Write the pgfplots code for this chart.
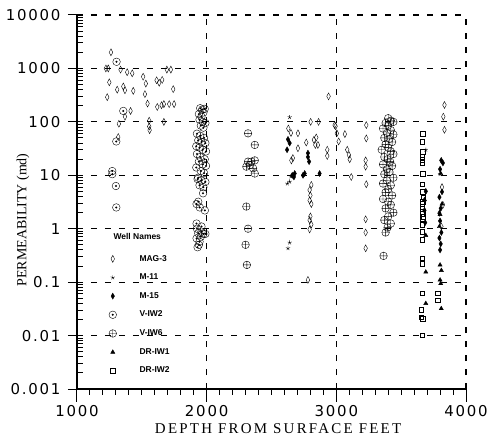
\documentclass[border=0pt]{standalone}
\usepackage{fontspec}
\setmainfont{Liberation Serif}
\newfontfamily\tickfont[LetterSpace=12]{DejaVu Sans}
\newfontfamily\labfont[LetterSpace=15]{Liberation Serif}
\newfontfamily\legfont{Liberation Sans}
\usepackage{pgfplots}
\pgfplotsset{compat=1.18}

\pgfdeclareplotmark{odot}{%
  \pgfpathcircle{\pgfpointorigin}{\pgfplotmarksize}\pgfusepathqstroke
  \pgfpathcircle{\pgfpointorigin}{0.3\pgfplotmarksize}\pgfusepathqfill}

\begin{document}
\begin{tikzpicture}
\useasboundingbox (-77bp,-54bp) rectangle (410bp,389bp);
\begin{axis}[
  scale only axis, width=389bp, height=374bp,
  ymode=log, xmin=1000, xmax=4000, ymin=0.001, ymax=10000,
  axis lines=left, axis line style={-, line width=1.3bp},
  xtick={1000,2000,3000,4000}, minor x tick num=9,
  ytick={0.001,0.01,0.1,1,10,100,1000,10000},
  yticklabels={0.001,0.01,0.1,1,10,100,1000,10000},
  xticklabels={1000,2000,3000,4000},
  minor ytick={0.002,0.003,0.004,0.005,0.006,0.007,0.008,0.009,
    0.02,0.03,0.04,0.05,0.06,0.07,0.08,0.09,
    0.2,0.3,0.4,0.5,0.6,0.7,0.8,0.9,
    2,3,4,5,6,7,8,9,20,30,40,50,60,70,80,90,
    200,300,400,500,600,700,800,900,2000,3000,4000,5000,6000,7000,8000,9000},
  tick align=outside, major tick length=13bp, minor tick length=6bp,
  tick style={black, line width=1bp},
  major y tick style={xshift=4bp},
  minor y tick style={xshift=6bp},
  ticklabel style={font=\tickfont\fontsize{15}{17}\selectfont},
  ymajorgrids, xmajorgrids,
  major grid style={black, line width=1.1bp, dash pattern=on 6bp off 8bp},
  xlabel={DEPTH\hspace{6bp}FROM\hspace{6bp}SURFACE\hspace{6bp}FEET},
  ylabel={PERMEABILITY (md)},
  xlabel style={font=\labfont\fontsize{15}{17}\selectfont, at={(axis description cs:0.517,-0.107)}, anchor=center},
  ylabel style={font=\fontsize{14}{16}\selectfont, at={(axis description cs:-0.139,0.452)}, anchor=center, rotate=0},
  every mark/.append style={line width=1bp, solid},
  legend style={draw=none, fill=none, at={(axis description cs:0.074,0.369)}, anchor=north west,
    font=\legfont\bfseries\fontsize{8.5}{10}\selectfont, row sep=7.3bp,
    /tikz/every odd column/.append style={column sep=21bp}},
  legend cell align=left,
  legend image code/.code={\draw[mark repeat=2,mark phase=2] plot coordinates {(0bp,0bp)(8bp,0bp)(16bp,0bp)};},
  clip=false,
]
% MAG-3
\addplot[only marks, mark=diamond, mark size=2.4bp, mark options={yscale=1.45}] coordinates {
(1262,2000)(1223,1000)(1241,1000)(1336,950)(1387,850)(1426,810)(1510,700)
(1693,950)(1724,950)(1249,550)(1357,460)(1531,520)(1614,600)(1634,540)(1657,610)
(1310,400)(1370,390)(1434,380)(1233,290)(1524,330)(1742,410)(1544,220)
(1619,190)(1652,205)(1670,215)(1711,215)(1749,215)(1413,160)(1370,125)(1323,92)
(1557,105)(1557,82)(1560,70)(1670,100)(1318,52)
(2940,300)(2802,100)(2863,100)(2630,75)(2650,62)(2704,61)(2704,32)(2768,41)
(2827,46)(2845,51)(2858,37)(2838,37)(2930,30)(2930,23)(2987,87)(2665,21)(2653,19)
(2807,6.6)(2794,5.3)(2800,4.2)(2794,3.4)(2807,2.9)(2800,1.7)(2794,1.45)(2807,1.2)(2794,0.97)
(2781,0.11)
(2994,83)(3004,61)(3018,43)(3066,59)(3084,30)(3097,24)(3103,20)(3115,9.3)
(3231,87)(3231,49)(3226,19)(3226,14.5)(3231,6.8)(3226,1.5)(3226,0.85)(3226,0.43)
(3834,207)(3825,125)(3834,71)(3815,6)(3822,2.8)(3810,1.1)
};
\addlegendentry{MAG-3}
% M-11
\addplot[only marks, mark=star, mark size=2.2bp] coordinates {
(2640,122)(2622,7)(2640,7.6)(2640,0.55)(2627,0.43)(2650,9.5)(3690,30)(3800,10.5)
};
\addlegendentry{M-11}
% M-15
\addplot[only marks, mark=diamond*, mark size=2.3bp, mark options={yscale=1.3}] coordinates {
(2627,47)(2640,40)(2620,30)(2781,26)(2781,22)(2790,18)(2679,10.8)(2673,9.3)
(2756,10.8)(2743,10)(2871,10.8)(2660,10)
(3809,19)(3822,17)(3800,13)(3815,4.9)(3795,3.9)(3805,2.4)(3795,1.95)(3800,1.4)
(3810,0.85)(3795,0.67)(3805,0.52)(3800,0.40)(3690,5)(3680,2.2)(3685,1.3)
};
\addlegendentry{M-15}
% V-IW2
\addplot[only marks, mark=odot, mark size=3.8bp] coordinates {
(1305,1330)(1357,160)(1303,43)(1272,12)(1272,10.5)(1300,6.3)(1303,2.5)
(1950,180)(1965,170)(1975,150)(1985,175)(1940,140)(1960,125)(1945,110)(1970,100)
(1990,95)(1955,85)(1975,78)(1925,60)(1950,55)(1980,50)(1935,45)(1960,42)(1990,40)
(1920,35)(1945,33)(1970,30)(1995,28)(1925,25)(1950,22)(1985,20)(1940,18)(1970,16)
(1995,15)(1920,14)(1955,12)(1980,11)(1935,9)(1960,8)(1990,7.5)(1945,6.5)(1930,8.5)
(1975,6)(1972,4.6)(1922,2.9)(1947,2.5)(1986,2.2)(1935,3.2)
(1922,1.25)(1925,1.0)(1935,0.82)(1922,0.66)(1945,0.57)(1955,0.71)(1960,0.88)
(1960,1.1)(1975,0.8)(1940,0.5)(1930,0.45)(1990,0.8)
};
\addlegendentry{V-IW2}
% V-IW6
\addplot[only marks, mark=oplus, mark size=3.8bp] coordinates {
(2319,61)(2371,37)(2319,18)(2345,18)(2371,19)(2332,15.5)(2306,14.5)(2358,13.5)
(2371,10.8)(2306,2.6)(2319,1.0)(2300,0.5)(2310,0.21)
(3400,117)(3420,105)(3380,95)(3440,100)(3400,85)(3360,75)(3420,70)(3390,62)
(3440,58)(3370,50)(3410,48)(3430,42)(3380,38)(3400,33)(3350,30)(3420,28)(3440,25)
(3370,22)(3395,20)(3415,18)(3360,16)(3430,15)(3390,13)(3410,11.5)(3370,10.5)
(3440,9)(3390,8)(3360,7)(3420,6.5)(3400,5.5)(3380,4.8)(3430,4.2)(3360,3.6)
(3400,3.2)(3420,2.8)(3380,2.4)(3440,2.0)(3400,1.7)(3370,1.45)(3420,1.25)
(3395,1.05)(3380,0.85)(3364,0.31)
};
\addlegendentry{V-IW6}
% DR-IW1
\addplot[only marks, mark=triangle*, mark size=2.4bp] coordinates {
(3690,0.155)(3690,0.04)(3809,0.032)(3805,10.8)(3800,0.21)(3810,0.166)(3800,0.11)
(3805,0.094)(3690,0.75)(3680,3.5)(3815,2.9)(3800,1.85)(3795,1.1)
};
\addlegendentry{DR-IW1}
% DR-IW2
\addplot[only marks, mark=square, mark size=2.4bp] coordinates {
(3667,61)(3662,43)(3667,27.6)(3662,22)(3662,19.5)(3662,17)(3667,10.8)(3662,6.8)
(3667,4.9)(3670,3.9)(3667,3.2)(3662,2.6)(3667,2.1)(3670,1.7)(3662,2.9)(3662,1.9)
(3667,1.55)(3662,1.17)(3662,0.87)(3662,0.62)(3662,0.28)(3662,0.22)(3662,0.062)
(3655,0.031)(3655,0.022)(3667,0.021)(3662,0.0102)(3783,0.062)(3783,0.046)
};
\addlegendentry{DR-IW2}
\node[anchor=west, font=\legfont\bfseries\fontsize{8.5}{10}\selectfont]
  at (axis description cs:0.085,0.409) {Well Names};
\end{axis}
\end{tikzpicture}
\end{document}
